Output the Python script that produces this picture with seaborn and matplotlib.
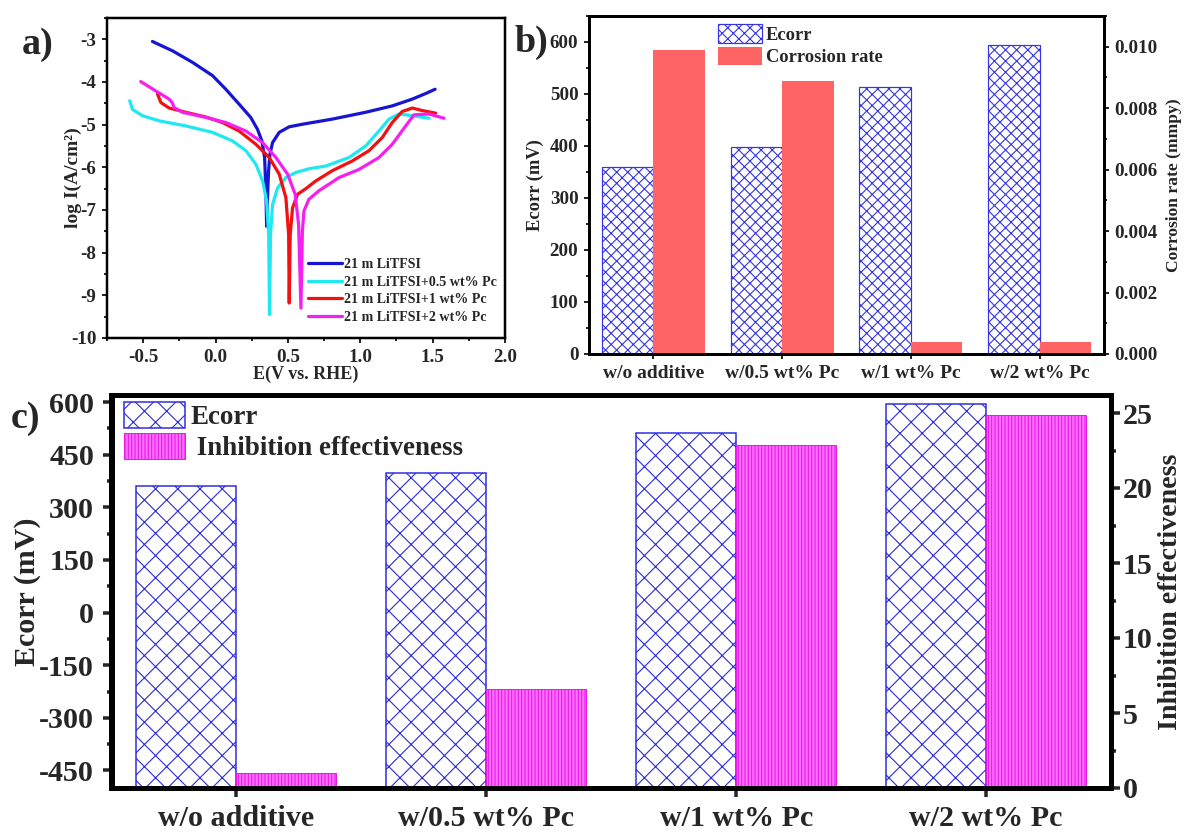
import numpy as np
import pandas as pd
import matplotlib
matplotlib.use("Agg")
import matplotlib.pyplot as plt
import seaborn as sns
from matplotlib.ticker import MultipleLocator, FormatStrFormatter
from matplotlib.patches import Patch

# ---------------- data ----------------
# panel a: Tafel curves (E in V vs RHE, log I)
blue_x = [-0.436, -0.297, -0.159, -0.021, 0.071, 0.163, 0.243, 0.29, 0.32, 0.339, 0.348, 0.353,
          0.358, 0.366, 0.376, 0.394, 0.44, 0.509, 0.60, 0.806, 1.037, 1.221, 1.36, 1.452, 1.517]
blue_y = [-3.05, -3.27, -3.54, -3.85, -4.17, -4.52, -4.83, -5.11, -5.38, -5.77, -6.55, -7.38,
          -6.8, -6.1, -5.69, -5.42, -5.18, -5.05, -4.99, -4.87, -4.71, -4.56, -4.40, -4.27, -4.17]

cyan_x = [-0.593, -0.574, -0.505, -0.39, -0.205, -0.021, 0.117, 0.21, 0.279, 0.325, 0.353, 0.367,
          0.373, 0.38, 0.394, 0.429, 0.486, 0.555, 0.65, 0.761, 0.922, 1.037, 1.129, 1.198, 1.268,
          1.36, 1.475]
cyan_y = [-4.44, -4.64, -4.79, -4.91, -5.03, -5.18, -5.38, -5.61, -5.93, -6.32, -6.79, -7.57,
          -9.45, -7.57, -6.87, -6.48, -6.24, -6.12, -6.03, -5.97, -5.77, -5.50, -5.15, -4.87, -4.75,
          -4.79, -4.85]

red_x = [-0.401, -0.378, -0.321, -0.205, -0.067, 0.048, 0.163, 0.279, 0.371, 0.44, 0.486, 0.505,
         0.509, 0.516, 0.532, 0.567, 0.624, 0.692, 0.806, 0.945, 1.06, 1.152, 1.221, 1.29, 1.36,
         1.429, 1.521]
red_y = [-4.28, -4.48, -4.61, -4.71, -4.82, -4.95, -5.15, -5.46, -5.77, -6.16, -6.71, -7.57,
         -9.18, -7.57, -6.95, -6.63, -6.50, -6.32, -6.08, -5.85, -5.61, -5.30, -4.95, -4.69, -4.61,
         -4.67, -4.73]

mag_x = [-0.517, -0.413, -0.321, -0.30, -0.286, -0.228, -0.067, 0.071, 0.21, 0.325, 0.417, 0.498,
         0.55, 0.574, 0.59, 0.60, 0.611, 0.645, 0.714, 0.853, 0.991, 1.129, 1.221, 1.29, 1.371,
         1.475, 1.579]
mag_y = [-3.99, -4.21, -4.40, -4.48, -4.60, -4.71, -4.83, -4.95, -5.15, -5.42, -5.77, -6.16,
         -6.63, -7.34, -9.30, -7.49, -7.02, -6.75, -6.55, -6.24, -6.05, -5.77, -5.46, -5.14, -4.77,
         -4.75, -4.85]

curve_names = ["21 m LiTFSI", "21 m LiTFSI+0.5 wt% Pc", "21 m LiTFSI+1 wt% Pc", "21 m LiTFSI+2 wt% Pc"]

# panels b, c
categories = ["w/o additive", "w/0.5 wt% Pc", "w/1 wt% Pc", "w/2 wt% Pc"]
ecorr = [360, 399, 513, 594]                       # mV
corrosion_rate = [0.0099, 0.0089, 0.0004, 0.00038]  # mmpy
inhibition = [1.0, 6.6, 22.9, 24.9]

# ---------------- style ----------------
sns.set_style("ticks")
plt.rcParams["font.family"] = ["Liberation Serif", "DejaVu Serif"]
plt.rcParams["font.weight"] = "bold"
plt.rcParams["axes.labelweight"] = "bold"
plt.rcParams["axes.unicode_minus"] = False
plt.rcParams["hatch.linewidth"] = 0.4

DPI = 200
W, H = 1188, 832
PT = 72.0 / DPI  # points per pixel

fig = plt.figure(figsize=(W / DPI, H / DPI), dpi=DPI)
fig.patch.set_facecolor("white")


def ax_rect(l, r, t, b):
    return [l / W, 1 - b / H, (r - l) / W, (b - t) / H]


# ---------------- panel a ----------------
axa = fig.add_axes(ax_rect(107, 505, 18, 338))
cols_a = ["#1616d2", "#20e8f0", "#f21010", "#f520f0"]
for nm, xs, ys, c in zip(curve_names, [blue_x, cyan_x, red_x, mag_x],
                         [blue_y, cyan_y, red_y, mag_y], cols_a):
    sns.lineplot(x=xs, y=ys, sort=False, estimator=None, color=c, lw=3.2 * PT, ax=axa, label=nm)
axa.set_xlim(-0.75, 2.0)
axa.set_ylim(-10, -2.5)
axa.xaxis.set_major_locator(MultipleLocator(0.5))
axa.xaxis.set_minor_locator(MultipleLocator(0.25))
axa.xaxis.set_major_formatter(FormatStrFormatter("%.1f"))
axa.yaxis.set_major_locator(MultipleLocator(1))
axa.yaxis.set_minor_locator(MultipleLocator(0.5))
for s in axa.spines.values():
    s.set_linewidth(2.5 * PT)
    s.set_color("black")
axa.tick_params(which="both", direction="out", width=2 * PT, labelsize=19 * PT, pad=2,
                top=False, right=False)
axa.tick_params(which="major", length=5 * PT)
axa.tick_params(which="minor", length=3 * PT)
axa.set_xlabel("E(V vs. RHE)", fontsize=18 * PT, labelpad=0)
axa.set_ylabel("log I(A/cm²)", fontsize=19.5 * PT, labelpad=-4)
leg = axa.legend(loc="upper left", bbox_to_anchor=(0.505, 0.25), frameon=False,
                 fontsize=14 * PT, handlelength=2.45, handletextpad=0.1, labelspacing=0.33,
                 borderpad=0, borderaxespad=0)
for t in leg.get_texts():
    t.set_fontweight("bold")

# ---------------- panel b ----------------
blue_h = "#3535e6"
red_b = "#ff6464"
axb = fig.add_axes(ax_rect(589, 1104, 16, 354))
hue_b = ["Ecorr", "Corrosion rate"]
df_be = pd.DataFrame({"cat": categories, "val": ecorr, "series": "Ecorr"})
df_br = pd.DataFrame({"cat": categories, "val": corrosion_rate, "series": "Corrosion rate"})
pal_b = {"Ecorr": "white", "Corrosion rate": red_b}
sns.barplot(data=df_be, x="cat", y="val", hue="series", hue_order=hue_b, order=categories,
            palette=pal_b, saturation=1, dodge=True, legend=False, ax=axb, width=0.8)
axb2 = axb.twinx()
sns.barplot(data=df_br, x="cat", y="val", hue="series", hue_order=hue_b, order=categories,
            palette=pal_b, saturation=1, dodge=True, legend=False, ax=axb2, width=0.8)
for p in axb.patches:
    p.set_facecolor("white")
    p.set_edgecolor(blue_h)
    p.set_hatch("xxxxxx")
    p.set_linewidth(1.2 * PT)
for p in axb2.patches:
    p.set_facecolor(red_b)
    p.set_edgecolor(red_b)
    p.set_linewidth(0)
axb.set_xlim(-0.5, 3.5)
axb.set_ylim(0, 650)
axb2.set_ylim(0, 0.011)
axb.yaxis.set_major_locator(MultipleLocator(100))
axb.yaxis.set_minor_locator(MultipleLocator(50))
axb2.yaxis.set_major_locator(MultipleLocator(0.002))
axb2.yaxis.set_minor_locator(MultipleLocator(0.001))
axb2.yaxis.set_major_formatter(FormatStrFormatter("%.3f"))
for a in (axb, axb2):
    for s in a.spines.values():
        s.set_linewidth(3 * PT)
        s.set_color("black")
    a.tick_params(which="both", direction="out", width=2 * PT, labelsize=19 * PT, pad=2)
    a.tick_params(which="major", length=5 * PT)
    a.tick_params(which="minor", length=3 * PT)
axb.tick_params(axis="x", labelsize=19.5 * PT)
axb.set_xlabel("")
axb.set_ylabel("Ecorr (mV)", fontsize=18.5 * PT, labelpad=2)
axb2.set_ylabel("Corrosion rate (mmpy)", fontsize=17.5 * PT, labelpad=3)
for lbl in axb.get_xticklabels() + axb.get_yticklabels() + axb2.get_yticklabels():
    lbl.set_fontweight("bold")
hb = [Patch(facecolor="white", edgecolor=blue_h, hatch="xxxxxx", linewidth=1.2 * PT, label="Ecorr"),
      Patch(facecolor=red_b, edgecolor=red_b, linewidth=0, label="Corrosion rate")]
legb = axb2.legend(handles=hb, loc="upper left", bbox_to_anchor=(0.25, 0.975), frameon=False,
                   fontsize=18.5 * PT, handlelength=2.4, handleheight=1.15, handletextpad=0.2,
                   labelspacing=0.15, borderpad=0, borderaxespad=0)
for t in legb.get_texts():
    t.set_fontweight("bold")

# ---------------- panel c ----------------
blue_c = "#2a2ae0"
pink_face = "#ff70ff"
pink_edge = "#e818e8"
axc = fig.add_axes(ax_rect(111.5, 1111, 395, 788))
hue_c = ["Ecorr", "Inhibition effectiveness"]
df_ce = pd.DataFrame({"cat": categories, "val": ecorr, "series": "Ecorr"})
df_ci = pd.DataFrame({"cat": categories, "val": inhibition, "series": "Inhibition effectiveness"})
pal_c = {"Ecorr": "white", "Inhibition effectiveness": pink_face}
sns.barplot(data=df_ce, x="cat", y="val", hue="series", hue_order=hue_c, order=categories,
            palette=pal_c, saturation=1, dodge=True, legend=False, ax=axc, width=0.8)
axc2 = axc.twinx()
sns.barplot(data=df_ci, x="cat", y="val", hue="series", hue_order=hue_c, order=categories,
            palette=pal_c, saturation=1, dodge=True, legend=False, ax=axc2, width=0.8)
c_ymin, c_ymax = -500, 620
axc.set_ylim(c_ymin, c_ymax)
for p in axc.patches:
    top = p.get_y() + p.get_height()
    p.set_y(c_ymin)
    p.set_height(top - c_ymin)
    p.set_facecolor("white")
    p.set_edgecolor(blue_c)
    p.set_hatch("xxx")
    p.set_linewidth(1.5 * PT)
for p in axc2.patches:
    p.set_facecolor(pink_face)
    p.set_edgecolor(pink_edge)
    p.set_hatch("|" * 10)
    p.set_linewidth(1.0 * PT)
axc.set_xlim(-0.5, 3.5)
axc2.set_ylim(0, 26.2)
axc.yaxis.set_major_locator(MultipleLocator(150))
axc.yaxis.set_minor_locator(MultipleLocator(75))
axc2.yaxis.set_major_locator(MultipleLocator(5))
axc2.yaxis.set_minor_locator(MultipleLocator(2.5))
for a in (axc, axc2):
    for s in a.spines.values():
        s.set_linewidth(5 * PT)
        s.set_color("black")
    a.tick_params(which="both", direction="out", width=3.5 * PT, labelsize=30 * PT, pad=3)
    a.tick_params(which="major", length=9 * PT)
    a.tick_params(which="minor", length=5 * PT)
axc2.tick_params(axis="y", pad=1)
axc.set_xlabel("")
axc.set_ylabel("Ecorr (mV)", fontsize=30 * PT, labelpad=-0.5)
axc2.set_ylabel("Inhibition effectiveness", fontsize=28 * PT, labelpad=2)
for lbl in axc.get_xticklabels() + axc.get_yticklabels() + axc2.get_yticklabels():
    lbl.set_fontweight("bold")
hc = [Patch(facecolor="white", edgecolor=blue_c, hatch="xxx", linewidth=1.5 * PT, label="Ecorr"),
      Patch(facecolor=pink_face, edgecolor=pink_edge, hatch="|" * 10, linewidth=1.0 * PT,
            label=" Inhibition effectiveness")]
legc = axc2.legend(handles=hc, loc="upper left", bbox_to_anchor=(0.0125, 0.982), frameon=False,
                   fontsize=27 * PT, handlelength=2.25, handleheight=1.1, handletextpad=0.2,
                   labelspacing=0.1, borderpad=0, borderaxespad=0)
for t in legc.get_texts():
    t.set_fontweight("bold")

# ---------------- panel letters ----------------
fig.text(38 / W, 1 - 44 / H, "a)", ha="center", va="center", fontsize=38 * PT, fontweight="bold")
fig.text(531 / W, 1 - 42 / H, "b)", ha="center", va="center", fontsize=38 * PT, fontweight="bold")
fig.text(26 / W, 1 - 418 / H, "c)", ha="center", va="center", fontsize=38 * PT, fontweight="bold")

fig.savefig("out.png", dpi=DPI, facecolor="white")
